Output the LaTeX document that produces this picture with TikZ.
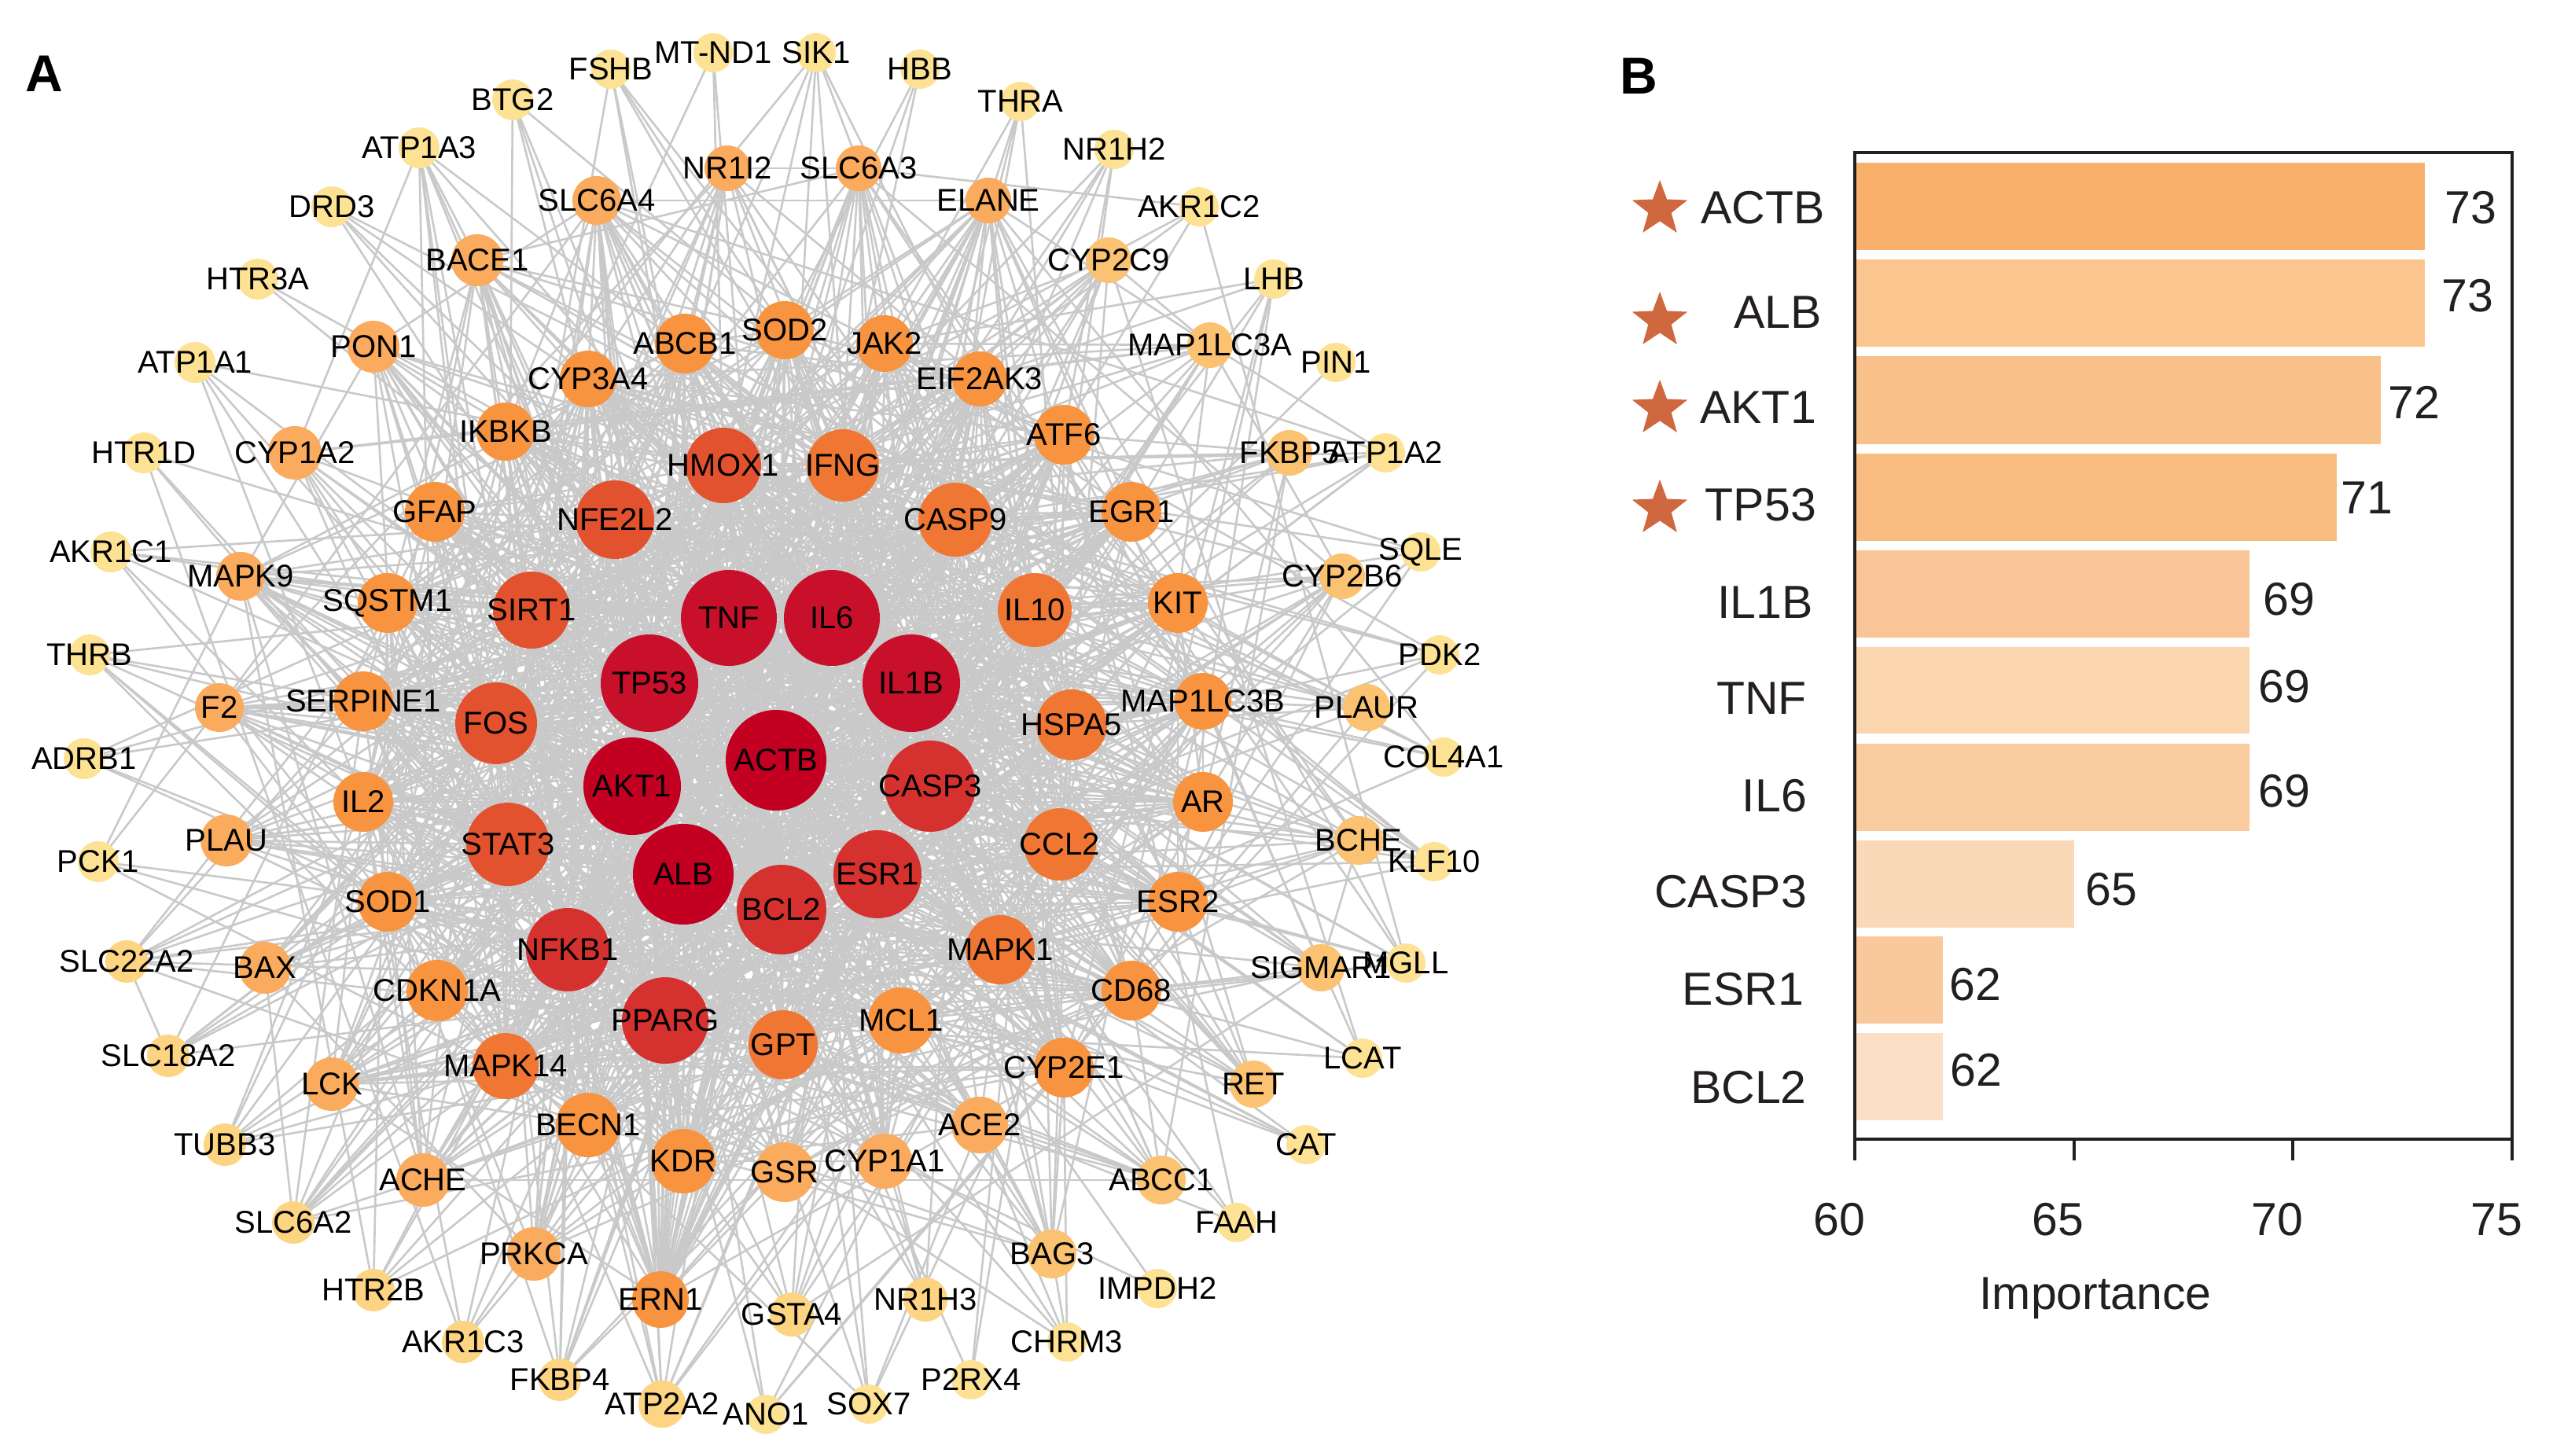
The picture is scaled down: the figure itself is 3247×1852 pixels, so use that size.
\documentclass[tikz,border=0pt]{standalone}
\usepackage{fontspec}
\setmainfont{Liberation Sans}
\usetikzlibrary{shapes.geometric}
\pgfdeclarelayer{bg}
\pgfsetlayers{bg,main}
\definecolor{ya}{HTML}{FDE294}
\definecolor{yb}{HTML}{FDD482}
\definecolor{oa}{HTML}{FBC271}
\definecolor{ob}{HTML}{FAAB5D}
\definecolor{oc}{HTML}{F8943F}
\definecolor{od}{HTML}{F07733}
\definecolor{ra}{HTML}{E2522E}
\definecolor{rb}{HTML}{D5312F}
\definecolor{rc}{HTML}{C9102B}
\definecolor{rd}{HTML}{C30022}
\definecolor{edgec}{HTML}{C9C9C9}
\definecolor{starc}{HTML}{D0683F}
\definecolor{txt}{HTML}{231F20}
\definecolor{bara}{HTML}{F8B06A}
\definecolor{barb}{HTML}{FAC58E}
\definecolor{barc}{HTML}{F9C08A}
\definecolor{bard}{HTML}{F9BC80}
\definecolor{bare}{HTML}{FAC596}
\definecolor{barf}{HTML}{FBD5AE}
\definecolor{barg}{HTML}{FACB9F}
\definecolor{barh}{HTML}{FBD9B8}
\definecolor{bari}{HTML}{F9C99C}
\definecolor{barj}{HTML}{FCE0C6}
\def\dgya{5}\def\dgyb{7}\def\dgoa{11}\def\dgob{17}\def\dgoc{30}
\def\dgod{45}\def\dgra{55}\def\dgrb{62}\def\dgrc{70}\def\dgrd{74}
\begin{document}
\begin{tikzpicture}[x=1pt,y=-1pt,
  lbl/.style={inner sep=0pt,font=\fontsize{40}{42}\selectfont,text=black},
  gnode/.style={circle,inner sep=0pt,draw=none},
  edgel/.style={draw=edgec,line width=2.6pt},
  clbl/.style={inner sep=0pt,font=\fontsize{59}{62}\selectfont,text=txt},
  panel/.style={inner sep=0pt,font=\fontsize{66}{70}\selectfont\bfseries,text=black},
  stari/.style={star,star points=5,star point ratio=2.4,fill=starc,minimum size=74pt,inner sep=0pt,draw=none},
  axisl/.style={line width=4pt,draw=txt}]
\useasboundingbox (0,0) rectangle (3247,1852);

% ---------------- network nodes ----------------
\foreach \nm/\px/\py/\rad/\cl [count=\k] in {
BTG2/652/127/26/ya, ATP1A3/533/188/26/ya, DRD3/422/263/26/ya, HTR3A/328/355/26/ya,
ATP1A1/248/461/26/ya, HTR1D/183/576/26/ya, AKR1C1/141/702/26/ya, THRB/114/833/26/ya,
ADRB1/107/965/26/ya, PCK1/125/1096/26/ya,
SLC22A2/161/1223/27/yb, SLC18A2/214/1343/27/yb, TUBB3/286/1456/27/yb, SLC6A2/373/1555/27/yb,
HTR2B/475/1641/27/yb, AKR1C3/589/1707/27/yb, FKBP4/712/1755/27/yb, ATP2A2/842/1786/30/yb,
ANO1/974/1799/25/ya, SOX7/1105/1786/25/ya, P2RX4/1235/1755/25/ya, CHRM3/1357/1707/25/ya,
IMPDH2/1472/1639/25/ya, FAAH/1573/1555/25/ya, CAT/1661/1456/25/ya, LCAT/1733/1346/25/ya,
KLF10/1824/1096/25/ya, COL4A1/1836/963/25/ya, PDK2/1831/833/25/ya, SQLE/1807/702/25/ya,
ATP1A2/1762/576/25/ya, PIN1/1699/461/25/ya, LHB/1620/355/25/ya, AKR1C2/1525/263/25/ya,
NR1H2/1417/190/25/ya, THRA/1298/129/25/ya, HBB/1170/88/25/ya, SIK1/1038/67/25/ya,
MT-ND1/907/67/25/ya, FSHB/777/88/25/ya,
CYP2C9/1410/331/29/oa, MAP1LC3A/1539/439/29/oa, FKBP5/1640/576/29/oa, CYP2B6/1707/733/29/oa,
PLAUR/1738/900/30/oa, BCHE/1728/1069/31/oa, SIGMAR1/1680/1231/30/oa, MGLL/1788/1225/25/ya,
RET/1594/1379/30/oa, ABCC1/1477/1501/31/oa, BAG3/1338/1595/31/oa,
NR1H3/1177/1653/28/yb, GSTA4/1007/1672/28/yb,
BACE1/607/331/33/ob, PON1/475/441/33/ob, CYP1A2/375/576/34/ob, SLC6A4/759/255/31/ob,
NR1I2/925/214/29/ob, SLC6A3/1092/214/29/ob, ELANE/1257/255/29/ob, MAPK9/306/733/31/ob,
F2/279/900/31/ob, PLAU/288/1069/33/ob, BAX/337/1231/33/ob, LCK/422/1379/34/ob,
ACHE/538/1501/34/ob, PRKCA/679/1595/34/ob, CYP1A1/1125/1477/35/ob, GSR/998/1491/38/ob,
ACE2/1246/1431/36/ob,
IKBKB/643/549/37/oc, ABCB1/871/437/38/oc, SOD2/998/420/37/oc, JAK2/1125/437/36/oc,
CYP3A4/748/482/36/oc, EIF2AK3/1246/482/35/oc, ATF6/1353/553/38/oc, GFAP/553/651/38/oc,
EGR1/1439/651/38/oc, SQSTM1/493/767/38/oc, SERPINE1/462/892/38/oc, KIT/1498/767/38/oc,
MAP1LC3B/1530/892/36/oc, IL2/462/1020/38/oc, AR/1530/1020/38/oc, SOD1/493/1147/38/oc,
ESR2/1498/1147/38/oc, CDKN1A/556/1260/39/oc, CD68/1439/1260/38/oc, CYP2E1/1353/1358/38/oc,
BECN1/748/1431/41/oc, KDR/869/1477/41/oc, ERN1/840/1653/36/oc, MCL1/1146/1298/42/oc,
MAPK14/643/1356/42/od, GPT/996/1329/44/od, MAPK1/1272/1208/44/od, IFNG/1072/592/46/od,
IL10/1316/776/47/od, HSPA5/1363/922/45/od, CCL2/1348/1074/46/od, CASP9/1215/661/47/od,
HMOX1/920/592/48/ra, NFE2L2/782/661/50/ra, SIRT1/676/776/49/ra, FOS/631/920/52/ra,
STAT3/646/1074/53/ra,
NFKB1/722/1208/53/rb, PPARG/846/1298/55/rb, BCL2/994/1157/57/rb, ESR1/1116/1112/56/rb,
CASP3/1183/1000/58/rb,
TP53/826/869/62/rc, IL1B/1159/869/62/rc, TNF/927/786/61/rc, IL6/1058/786/61/rc,
AKT1/804/1000/62/rd, ALB/869/1112/64/rd, ACTB/987/967/64/rd}{
  \node[gnode,fill=\cl,minimum size=2*\rad pt] (g\k) at (\px,\py) {};
  \node[lbl] (t\k) at (\px,\py) {\nm};
  \expandafter\xdef\csname gd\k\endcsname{\csname dg\cl\endcsname}
  \xdef\N{\k}
}

% ---------------- network edges ----------------
\begin{pgfonlayer}{bg}
\fill[white] (0,0) rectangle (3247,1852);
\pgfmathsetseed{20240}
\pgfmathtruncatemacro\Nm{\N-1}
\foreach \i in {1,...,\Nm}{
  \pgfmathtruncatemacro\js{\i+1}
  \foreach \j in {\js,...,\N}{
    \pgfmathrandominteger{\rr}{0}{2500}
    \ifnum\rr<\numexpr\csname gd\i\endcsname*\csname gd\j\endcsname\relax
      \draw[edgel] (g\i.center) -- (g\j.center);
    \fi
  }
}
\end{pgfonlayer}

% ---------------- panel letters ----------------
\node[panel] (pA) at (56,94) {A};
\node[panel] (pB) at (2084,97) {B};

% ---------------- bar chart ----------------
\fill[bara] (2361,207) rectangle (3083.5,318);
\fill[barb] (2361,330) rectangle (3083.5,441);
\fill[barc] (2361,453) rectangle (3027.8,565);
\fill[bard] (2361,577) rectangle (2972.1,688);
\fill[bare] (2361,700) rectangle (2860.6,811);
\fill[barf] (2361,823) rectangle (2860.6,933);
\fill[barg] (2361,946) rectangle (2860.6,1057);
\fill[barh] (2361,1069) rectangle (2637.7,1180);
\fill[bari] (2361,1191) rectangle (2470.5,1302);
\fill[barj] (2361,1314) rectangle (2470.5,1425);
\draw[axisl] (2359,194) rectangle (3195,1449);
\foreach \tx/\tl in {2359/60,2637.7/65,2916.3/70,3195/75}{
  \draw[axisl] (\tx,1449) -- (\tx,1476);
  \node[clbl] (tick\tl) at (\tx-20,1551) {\tl};
}
\node[clbl,anchor=base] (xlab) at (2665,1665) {Importance};

\foreach \lab/\rx/\ly [count=\q] in {ACTB/2321/264, ALB/2317/397, AKT1/2310/518, TP53/2310/642,
  IL1B/2306/766, TNF/2298/888, IL6/2298/1012, CASP3/2298/1134, ESR1/2294/1258, BCL2/2298/1383}{
  \node[clbl,anchor=east] (yl\q) at (\rx,\ly) {\lab};
}
\foreach \v/\vx/\vy [count=\q] in {73/3142/264, 73/3138/376, 72/3070/512, 71/3010/633,
  69/2911/762, 69/2905/873, 69/2905/1006, 65/2685/1131, 62/2512/1252, 62/2513/1361}{
  \node[clbl] (val\q) at (\vx,\vy) {\v};
}
\node[stari] (s1) at (2111,266) {};
\node[stari] (s2) at (2111,408) {};
\node[stari] (s3) at (2111,520) {};
\node[stari] (s4) at (2111,647) {};
\end{tikzpicture}
\end{document}
